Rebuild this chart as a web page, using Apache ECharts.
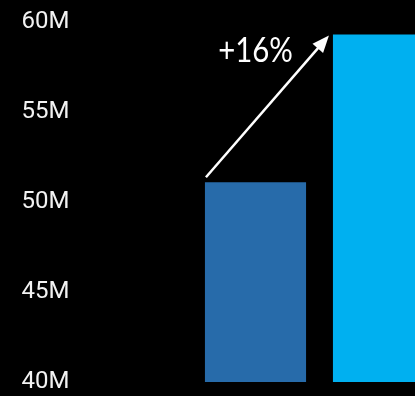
<!DOCTYPE html>
<html>
<head>
<meta charset="utf-8">
<style>
  html, body { margin: 0; padding: 0; background: #000; }
  #chart { width: 415px; height: 396px; }
</style>
<script src="https://cdn.jsdelivr.net/npm/echarts@6/dist/echarts.min.js"></script>
</head>
<body>
<div id="chart"></div>
<script>
// Two periods compared, values in millions
const categories = ['Before', 'After'];
const values = [51.1, 59.3];
const barColors = ['#276BAA', '#00B0F0'];
const growthLabel = '+' + Math.round((values[1] / values[0] - 1) * 100) + '%';

const chart = echarts.init(document.getElementById('chart'), null, { renderer: 'canvas' });

chart.setOption({
  backgroundColor: '#000',
  animation: false,
  grid: { left: 191.5, top: 22, width: 256, height: 360, outerBoundsMode: 'none' },
  xAxis: {
    type: 'category',
    data: categories,
    axisLine: { show: false },
    axisTick: { show: false },
    axisLabel: { show: false }
  },
  yAxis: {
    type: 'value',
    min: 40,
    max: 60,
    interval: 5,
    splitLine: { show: false },
    axisLine: { show: false },
    axisTick: { show: false },
    axisLabel: {
      color: '#f2f2f2',
      fontFamily: 'Roboto',
      fontSize: 24,
      margin: 122,
      formatter: v => v + 'M'
    }
  },
  series: [
    {
      type: 'bar',
      barWidth: '79%',
      clip: true,
      data: values.map((v, i) => ({ value: v, itemStyle: { color: barColors[i] } }))
    },
    {
      // growth arrow from the first bar's top to the second bar's top
      type: 'custom',
      clip: false,
      z: 5,
      data: [[0, values[0], 1, values[1]]],
      renderItem: function (params, api) {
        const band = api.size([1, 0])[0];
        const half = band * 0.79 / 2;
        const p1 = api.coord([api.value(0), api.value(1)]);
        const p2 = api.coord([api.value(2), api.value(3)]);
        const sx = p1[0] - half + 1, sy = p1[1] - 5;
        const ex = p2[0] - half - 4, ey = p2[1] + 1;
        const ang = Math.atan2(ey - sy, ex - sx);
        const headLen = 17, headW = 7;
        const bx = ex - headLen * Math.cos(ang), by = ey - headLen * Math.sin(ang);
        const nx = -Math.sin(ang), ny = Math.cos(ang);
        return {
          type: 'group',
          children: [
            {
              type: 'line',
              shape: { x1: sx, y1: sy, x2: bx + 2 * Math.cos(ang), y2: by + 2 * Math.sin(ang) },
              style: { stroke: '#fff', lineWidth: 2.5 }
            },
            {
              type: 'polygon',
              shape: { points: [[ex, ey], [bx + nx * headW, by + ny * headW], [bx - nx * headW, by - ny * headW]] },
              style: { fill: '#fff' }
            },
            {
              type: 'text',
              x: p1[0],
              y: p2[1] + 16,
              scaleX: 0.84,
              style: {
                x: 0,
                y: 0,
                text: growthLabel,
                fill: '#fff',
                font: '35px Lato',
                align: 'center',
                verticalAlign: 'middle'
              }
            }
          ]
        };
      }
    }
  ]
});
</script>
</body>
</html>
